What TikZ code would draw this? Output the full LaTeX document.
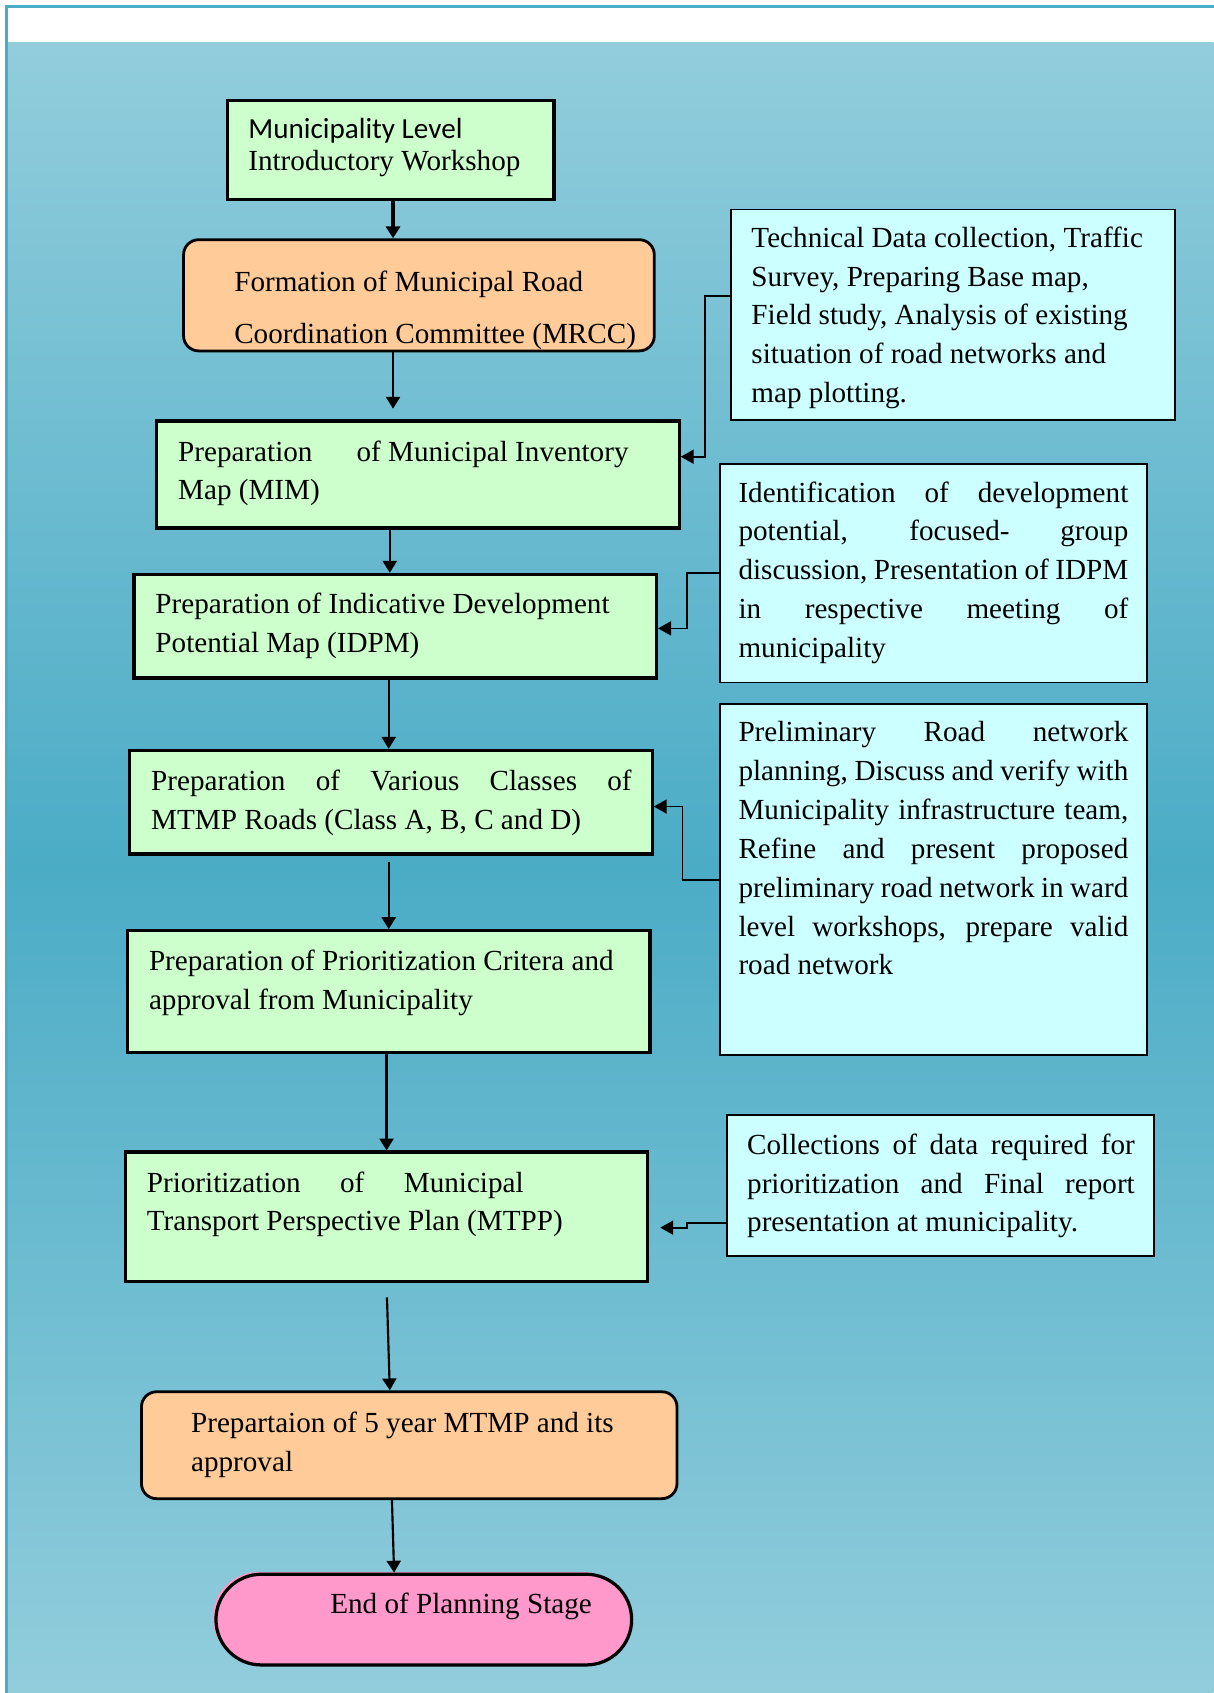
\documentclass[tikz,border=0pt]{standalone}
\usepackage{fontspec}
\setmainfont{Liberation Serif}
\newfontfamily\calib{Carlito}
\usetikzlibrary{arrows.meta,calc}
\definecolor{bgl}{HTML}{92CDDC}
\definecolor{bgd}{HTML}{4BACC6}
\definecolor{framec}{HTML}{4BACC6}
\definecolor{boxgreen}{HTML}{CCFFCC}
\definecolor{peach}{HTML}{FFCC99}
\definecolor{lcyan}{HTML}{CCFFFF}
\definecolor{endpink}{HTML}{FF99CC}
% #1 height, #2 box width, #3 top pad, #4 left pad, #5 text width, #6 text
\newcommand\btext[6]{\parbox[c][#1][t]{#2}{\vspace*{#3}\hspace*{#4}\parbox[t]{#5}{\strut#6}}}
\newcommand\jl[1]{\makebox[\linewidth][s]{#1}}
\begin{document}
\begin{tikzpicture}[x=0.5pt,y=-0.5pt,
  every node/.style={font={\fontsize{13.5}{18}\selectfont}},
  gbox/.style={draw=black, fill=boxgreen, line width=1.5pt, inner sep=0pt},
  pbox/.style={draw=black, fill=peach, line width=1.3pt, inner sep=0pt, rounded corners=7pt},
  cbox/.style={draw=black, fill=lcyan, line width=0.8pt, inner sep=0pt},
  ebox/.style={draw=black, fill=endpink, line width=1.5pt, inner sep=0pt, rounded corners=21pt,
    minimum width=192.5pt, minimum height=42pt,
    preaction={fill=endpink, transform canvas={xshift=-1.5pt,yshift=1pt}}},
  flow/.style={-{Triangle[length=5.5pt,width=6.5pt]}, line width=1pt},
  side/.style={-{Triangle[length=6pt,width=6.5pt]}, line width=0.8pt}]
\useasboundingbox (0,0) rectangle (1124,1568);
\fill[white] (0,0) rectangle (1124,1568);
\shade[top color=bgl, bottom color=bgl, middle color=bgd] (6,39) rectangle (1124,1568);
\draw[framec, line width=1.2pt] (1124,6) -- (6,6) -- (6,1568);

% main column
\node[gbox, font={\fontsize{13.5}{15}\selectfont}] (b1) at (362,139)
  {\btext{46pt}{151pt}{7pt}{9.5pt}{138pt}{\mbox{\calib Municipality Level}\\\mbox{Introductory Workshop}}};
\node[pbox, font={\fontsize{13.5}{24}\selectfont}] (b2) at (388,273.5)
  {\btext{51.5pt}{218pt}{7.2pt}{23.5pt}{192pt}{\mbox{Formation of Municipal Road}\\\mbox{Coordination Committee (MRCC)}}};
\node[gbox] (b3) at (387,439.5)
  {\btext{49.5pt}{242pt}{5.9pt}{10pt}{222pt}{\mbox{Preparation\hspace{17pt} of Municipal Inventory}\\\mbox{Map (MIM)}}};
\node[gbox] (b4) at (366,580)
  {\btext{48pt}{242pt}{5.4pt}{10pt}{222pt}{\mbox{Preparation of Indicative Development}\\\mbox{Potential Map (IDPM)}}};
\node[gbox] (b5) at (362,743)
  {\btext{48pt}{242pt}{5.9pt}{10pt}{222.5pt}{\jl{Preparation of Various Classes of}\\\mbox{MTMP Roads (Class A, B, C and D)}}};
\node[gbox] (b6) at (360,918.5)
  {\btext{56.5pt}{242pt}{5.9pt}{10pt}{222pt}{\mbox{Preparation of Prioritization Critera and}\\\mbox{approval from Municipality}}};
\node[gbox] (b7) at (358,1127)
  {\btext{60pt}{242pt}{5.9pt}{10pt}{222pt}{\makebox[174.5pt][s]{Prioritization of Municipal}\\\mbox{Transport Perspective Plan (MTPP)}}};
\node[pbox] (b8) at (379,1338.5)
  {\btext{49.5pt}{248pt}{6.4pt}{23pt}{200pt}{\mbox{Prepartaion of 5 year MTMP and its}\\\mbox{approval}}};
\node[ebox] (b9) at (392.5,1500)
  {\hspace*{34.5pt}\raisebox{3pt}[0pt][0pt]{End of Planning Stage}};

% side boxes
\node[cbox] (c1) at (882.5,291.5)
  {\btext{97.5pt}{205.5pt}{4.9pt}{9.5pt}{190pt}{\mbox{Technical Data collection, Traffic}\\\mbox{Survey, Preparing Base map,}\\\mbox{Field study, Analysis of existing}\\\mbox{situation of road networks and}\\\mbox{map plotting.}}};
\node[cbox] (c2) at (864.5,531)
  {\btext{101pt}{197.5pt}{4.9pt}{8.5pt}{180.5pt}{\jl{Identification of development}\\\jl{potential, focused- group}\\\jl{discussion, Presentation of IDPM}\\\jl{in respective meeting of}\\\mbox{municipality}}};
\node[cbox] (c3) at (864.5,814.5)
  {\btext{162.5pt}{197.5pt}{4.9pt}{8.5pt}{180.5pt}{\jl{Preliminary Road network}\\\jl{planning, Discuss and verify with}\\\jl{Municipality infrastructure team,}\\\jl{Refine and present proposed}\\\jl{preliminary road network in ward}\\\jl{level workshops, prepare valid}\\\mbox{road network}}};
\node[cbox] (c4) at (871,1098)
  {\btext{65pt}{198pt}{5.4pt}{9.5pt}{179.5pt}{\jl{Collections of data required for}\\\jl{prioritization and Final report}\\\mbox{presentation at municipality.}}};

% column helpers
\coordinate (X358) at (358,0);
\coordinate (X360) at (360,0);
\coordinate (X361) at (361,0);
\coordinate (X363) at (363,0);
\coordinate (X364) at (364,0);
\coordinate (X365) at (365,0);

% main flow
\draw[flow, line width=1.5pt] (b1.south -| X364) -- (b2.north -| X364);
\draw[flow, shorten >=5pt] (b2.south -| X364) -- (b3.north -| X364);
\draw[flow] (b3.south -| X361) -- (b4.north -| X361);
\draw[flow] (b4.south -| X360) -- (b5.north -| X360);
\draw[flow, shorten <=3pt] (b5.south -| X360) -- (b6.north -| X360);
\draw[flow] (b6.south -| X358) -- (b7.north -| X358);
\draw[flow, shorten <=6.5pt] (b7.south -| X358) -- (b8.north -| X361);
\draw[flow] (b8.south -| X363) -- (b9.north -| X365);

% side connectors
\coordinate (j1a) at (653,274); \coordinate (j1b) at (653,423);
\draw[side] (c1.west |- j1a) -- (j1a) -- (j1b) -- (b3.east |- j1b);
\coordinate (j2a) at (636,531); \coordinate (j2b) at (636,582);
\draw[side] (c2.west |- j2a) -- (j2a) -- (j2b) -- (b4.east |- j2b);
\coordinate (j3a) at (632,815); \coordinate (j3b) at (632,747);
\draw[side] (c3.west |- j3a) -- (j3a) -- (j3b) -- (b5.east |- j3b);
\coordinate (j4a) at (636,1133); \coordinate (j4b) at (636,1137);
\draw[side, shorten >=5pt] (c4.west |- j4a) -- (j4a) -- (j4b) -- (b7.east |- j4b);
\end{tikzpicture}
\end{document}
